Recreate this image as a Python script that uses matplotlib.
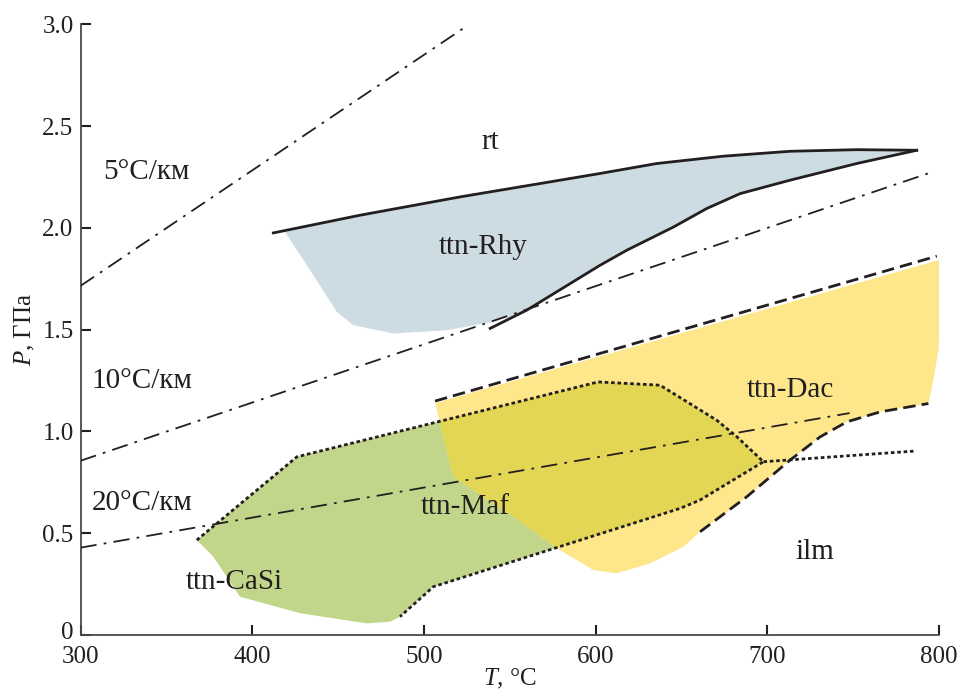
from matplotlib import pyplot as plt
from matplotlib.patches import Polygon
import matplotlib.transforms as mtransforms
import numpy as np

plt.rcParams['font.family'] = ['Liberation Serif', 'DejaVu Serif']
plt.rcParams['mathtext.fontset'] = 'custom'
plt.rcParams['mathtext.rm'] = 'Liberation Serif'
plt.rcParams['mathtext.it'] = 'Liberation Serif:italic'

# geotherms (T, P)
geo5_t, geo5_p = [300, 523], [1.715, 2.98]
geo10_t, geo10_p = [300, 794], [0.856, 2.268]
geo20_t, geo20_p = [300, 748], [0.429, 1.09]

# ttn-Rhy field
rhy_top_t = [412.3, 462.8, 521.1, 579.3, 602.6, 635.7, 674.5, 713.3, 752.2, 787.1]
rhy_top_p = [1.975, 2.062, 2.152, 2.234, 2.267, 2.316, 2.352, 2.376, 2.384, 2.381]
rhy_low_t = [538.6, 560.0, 602.6, 618.2, 645.4, 664.8, 684.2, 713.3, 752.2, 787.1]
rhy_low_p = [1.506, 1.596, 1.816, 1.890, 2.004, 2.095, 2.168, 2.234, 2.316, 2.381]
rhy_fill_t = [419.1, 433.7, 449.3, 458.9, 482.2, 513.3, 540.5, 556.0]
rhy_fill_p = [1.980, 1.792, 1.587, 1.522, 1.481, 1.497, 1.538, 1.579]

# ttn-Maf field (dotted outline) + unlined lower-left edge
maf_line_t = [367.7, 426.0, 601.5, 637.6, 670.6, 682.3, 697.8, 660.9, 649.3, 505.5, 486.1]
maf_line_p = [0.466, 0.875, 1.243, 1.227, 1.055, 0.974, 0.851, 0.663, 0.622, 0.237, 0.090]
maf_base_t = [480.3, 466.7, 427.9, 392.9, 377.4]
maf_base_p = [0.065, 0.057, 0.107, 0.188, 0.384]
maf_tail_t = [697.8, 785.2]
maf_tail_p = [0.851, 0.903]

# ttn-Dac field
dac_top_t, dac_top_p = [506.5, 798.8], [1.149, 1.861]
dac_low_t = [660.9, 688.1, 713.3, 730.8, 746.4, 765.8, 793.9]
dac_low_p = [0.507, 0.679, 0.859, 0.973, 1.047, 1.096, 1.137]
dac_right_t = [801.7, 802.6, 799.7, 796.8]
dac_right_p = [1.844, 1.694, 1.399, 1.252]
dac_left_t = [660.9, 651.2, 631.8, 612.4, 598.7, 579.3, 552.1, 517.2, 509.4, 506.5]
dac_left_p = [0.499, 0.433, 0.352, 0.303, 0.319, 0.417, 0.581, 0.777, 1.039, 1.144]

labels = ['rt', 'ttn-Rhy', 'ttn-Dac', 'ttn-Maf', 'ttn-CaSi', 'ilm',
          '5°C/км', '10°C/км', '20°C/км']
label_t = [538.6, 534.5, 713.3, 524.0, 389.4, 727.8, 338.5, 335.6, 335.6]
label_p = [2.42, 1.905, 1.203, 0.628, 0.26, 0.407, 2.273, 1.247, 0.648]

ink = '#231f20'

fig = plt.figure(figsize=(9.59, 6.93), dpi=100)
ax = fig.add_axes([0.084, 0.0837, 0.895, 0.8813])

# fills
rhy = [(rhy_fill_t[0], rhy_fill_p[0])] + list(zip(rhy_top_t, rhy_top_p))[1:] \
    + [pt for pt in zip(rhy_low_t, rhy_low_p) if 560 <= pt[0] < 787][::-1] \
    + list(zip(rhy_fill_t, rhy_fill_p))[::-1][:-1]
ax.add_patch(Polygon(rhy, closed=True, fc='#cddbe3', ec='none', zorder=1))

maf = list(zip(maf_line_t, maf_line_p)) + list(zip(maf_base_t, maf_base_p))
ax.add_patch(Polygon(maf, closed=True, fc='#c1d68a', ec='none', zorder=1))

dac = [(dac_top_t[0], dac_top_p[0] - 0.01), (dac_top_t[1] + 3, dac_top_p[1] - 0.015)] \
    + list(zip(dac_right_t, dac_right_p)) + list(zip(dac_low_t, dac_low_p))[::-1] \
    + list(zip(dac_left_t, dac_left_p))[1:]
dac_patch = Polygon(dac, closed=True, fc='#fee78a', ec='none', zorder=2)
ax.add_patch(dac_patch)
over = Polygon(maf, closed=True, fc='#e4d655', ec='none', zorder=3)
ax.add_patch(over)
over.set_clip_path(dac_patch)

# geotherms
dd = (0, (9, 4, 1.5, 4))
for t, p in [(geo5_t, geo5_p), (geo10_t, geo10_p), (geo20_t, geo20_p)]:
    ax.plot(t, p, color=ink, lw=1.3, ls=dd, zorder=4)

# boundaries
ax.plot(rhy_top_t, rhy_top_p, color=ink, lw=2, zorder=5, solid_joinstyle='round')
ax.plot(rhy_low_t, rhy_low_p, color=ink, lw=2, zorder=5, solid_joinstyle='round')
ax.plot(dac_top_t, dac_top_p, color=ink, lw=2, ls=(0, (4.5, 2.2)), zorder=5)
ax.plot(dac_low_t, dac_low_p, color=ink, lw=2, ls=(0, (4.5, 2.2)), zorder=5)
ax.plot(maf_line_t, maf_line_p, color=ink, lw=2, ls=(0, (1.3, 1.0)), zorder=5)
ax.plot(maf_tail_t, maf_tail_p, color=ink, lw=2, ls=(0, (1.3, 1.0)), zorder=5)

for s, t, p in zip(labels, label_t, label_p):
    ax.text(t, p, s, ha='center', va='center', fontsize=21, color=ink, zorder=6)

ax.set_xlim(300, 800)
ax.set_ylim(0, 3.0)
ax.set_xticks([300, 400, 500, 600, 700, 800])
ax.set_yticks([0, 0.5, 1.0, 1.5, 2.0, 2.5, 3.0])
ax.set_yticklabels(['0', '0.5', '1.0', '1.5', '2.0', '2.5', '3.0'])
ax.tick_params(direction='in', length=7, width=1.5, labelsize=18, colors=ink)
ax.tick_params(axis='x', pad=8)
ax.tick_params(axis='y', pad=5)
for side in ['top', 'right']:
    ax.spines[side].set_visible(False)
for side in ['left', 'bottom']:
    ax.spines[side].set_color('#4a4a4a')
    ax.spines[side].set_linewidth(1.3)
ax.set_xlabel(r'$\it{T}$, °C', fontsize=18, color=ink, labelpad=-1)
ax.set_ylabel(r'$\it{P}$, ГПа', fontsize=18, color=ink, labelpad=4)

# lift the "0" label a little so it clears the "300" below it
zero = ax.get_yticklabels()[0]
zero.set_transform(zero.get_transform() + mtransforms.ScaledTranslation(0, 3 / 72, fig.dpi_scale_trans))

plt.savefig('out.png')
